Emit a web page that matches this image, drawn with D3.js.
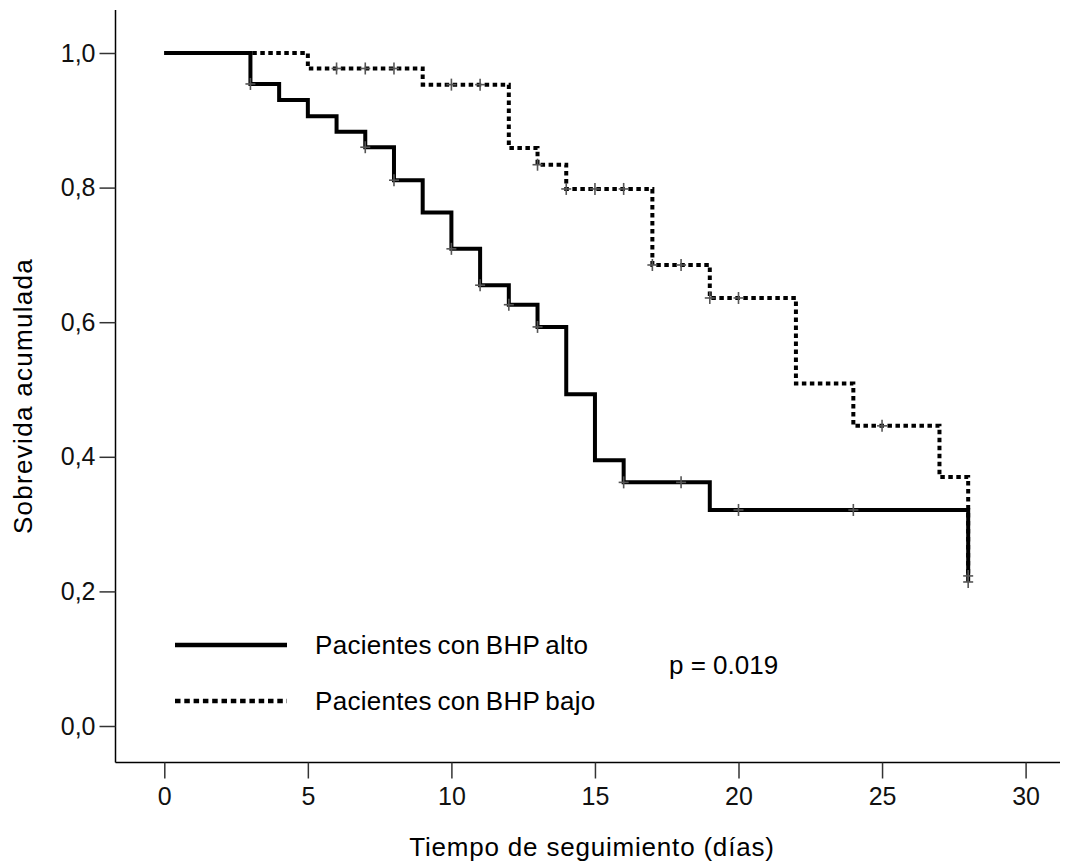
<!DOCTYPE html>
<html>
<head>
<meta charset="utf-8">
<script src="https://cdn.jsdelivr.net/npm/d3@7"></script>
<style>
  html, body { margin: 0; padding: 0; background: #fff; }
  svg { display: block; font-family: "Liberation Sans", Arial, sans-serif; }
</style>
</head>
<body>
<svg id="chart" width="1070" height="867"></svg>
<script>
// ---- Data ----
const altoTimes = [0, 3, 4, 5, 6, 7, 8, 9, 10, 11, 12, 13, 14, 15, 16, 19, 28];
const altoSurv  = [1.0, 0.954, 0.930, 0.906, 0.883, 0.860, 0.811, 0.763, 0.709, 0.655, 0.626, 0.593, 0.493, 0.395, 0.362, 0.321, 0.214];
const altoCensored = [3, 7, 8, 10, 11, 12, 13, 16, 18, 20, 24, 28];

const bajoTimes = [0, 5, 9, 12, 13, 14, 17, 19, 22, 24, 27, 28];
const bajoSurv  = [1.0, 0.977, 0.953, 0.859, 0.834, 0.798, 0.685, 0.636, 0.509, 0.446, 0.370, 0.223];
const bajoCensored = [6, 7, 8, 10, 11, 13, 14, 15, 16, 17, 18, 19, 20, 25, 28];

const xTicks = [0, 5, 10, 15, 20, 25, 30];
const yTicks = [0, 0.2, 0.4, 0.6, 0.8, 1.0];
const legendLabels = ["Pacientes con BHP alto", "Pacientes con BHP bajo"];
const pValueText = "p = 0.019";
const xTitle = "Tiempo de seguimiento (días)";
const yTitle = "Sobrevida acumulada";

// ---- Layout ----
const svg = d3.select("#chart");
const axisX = 115.5, axisY = 762.5;
const x = d3.scaleLinear().domain([0, 30]).range([164.3, 1025.6]);
const y = d3.scaleLinear().domain([0, 1]).range([726, 53]);

// axes lines
svg.append("line").attr("x1", axisX).attr("x2", axisX).attr("y1", 10).attr("y2", axisY)
   .attr("stroke", "#000").attr("stroke-width", 1.5);
svg.append("line").attr("x1", axisX).attr("x2", 1060).attr("y1", axisY).attr("y2", axisY)
   .attr("stroke", "#000").attr("stroke-width", 1.5);

const fmt = d => d3.format(".1f")(d).replace(".", ",");

// x axis
const gx = svg.append("g").attr("transform", `translate(0,${axisY})`)
  .call(d3.axisBottom(x).tickValues(xTicks).tickSize(16).tickSizeOuter(0).tickFormat(d3.format("d")));
gx.select(".domain").remove();
gx.selectAll(".tick line").attr("stroke", "#333").attr("stroke-width", 1.5);
gx.selectAll(".tick text").attr("font-size", 25).attr("fill", "#111")
  .attr("font-family", "'Liberation Sans', Arial, sans-serif").attr("dy", "0.95em").attr("y", 19);

// y axis
const gy = svg.append("g").attr("transform", `translate(${axisX},0)`)
  .call(d3.axisLeft(y).tickValues(yTicks).tickSize(16).tickSizeOuter(0).tickFormat(fmt));
gy.select(".domain").remove();
gy.selectAll(".tick line").attr("stroke", "#333").attr("stroke-width", 1.5);
gy.selectAll(".tick text").attr("font-size", 25).attr("fill", "#111")
  .attr("font-family", "'Liberation Sans', Arial, sans-serif").attr("x", -20);

// ---- Curves ----
const line = d3.line().x(d => x(d[0])).y(d => y(d[1])).curve(d3.curveStepAfter);
const bajoPts = bajoTimes.map((t, i) => [t, bajoSurv[i]]);
const altoPts = altoTimes.map((t, i) => [t, altoSurv[i]]);

function survAt(times, surv, t) {
  let v = surv[0];
  for (let i = 0; i < times.length; i++) if (times[i] <= t) v = surv[i];
  return v;
}

svg.append("path").attr("d", line(bajoPts)).attr("fill", "none").attr("stroke", "#000")
   .attr("stroke-width", 4).attr("stroke-dasharray", "4.5,3.5");
svg.append("path").attr("d", line(altoPts)).attr("fill", "none").attr("stroke", "#000")
   .attr("stroke-width", 4);

// censor marks
function drawCensors(times, surv, cens) {
  const g = svg.append("g").attr("stroke", "#555").attr("stroke-width", 1.6);
  cens.forEach(t => {
    const cx = x(t), cy = y(survAt(times, surv, t));
    g.append("line").attr("x1", cx).attr("x2", cx).attr("y1", cy - 6).attr("y2", cy + 6);
    g.append("line").attr("x1", cx - 5).attr("x2", cx + 5).attr("y1", cy).attr("y2", cy);
  });
}
drawCensors(bajoTimes, bajoSurv, bajoCensored);
drawCensors(altoTimes, altoSurv, altoCensored);

// ---- Legend ----
const legY = [645, 701];
svg.append("line").attr("x1", 175).attr("x2", 287).attr("y1", legY[0]).attr("y2", legY[0])
   .attr("stroke", "#000").attr("stroke-width", 4.5);
svg.append("line").attr("x1", 175).attr("x2", 287).attr("y1", legY[1]).attr("y2", legY[1])
   .attr("stroke", "#000").attr("stroke-width", 4.5).attr("stroke-dasharray", "5.5,3.8");
legendLabels.forEach((lab, i) => {
  svg.append("text").attr("x", 315).attr("y", legY[i] + 9).attr("font-size", 26)
     .attr("word-spacing", -2).attr("letter-spacing", 0.3).attr("fill", "#000").text(lab);
});

svg.append("text").attr("x", 669).attr("y", 674).attr("font-size", 26).attr("fill", "#000").text(pValueText);

// ---- Titles ----
svg.append("text").attr("x", 592).attr("y", 856).attr("text-anchor", "middle")
   .attr("font-size", 26).attr("letter-spacing", 0.8).attr("fill", "#000").text(xTitle);
svg.append("text").attr("transform", "translate(32,396) rotate(-90)").attr("text-anchor", "middle")
   .attr("font-size", 26).attr("letter-spacing", 1.3).attr("fill", "#000").text(yTitle);
</script>
</body>
</html>
